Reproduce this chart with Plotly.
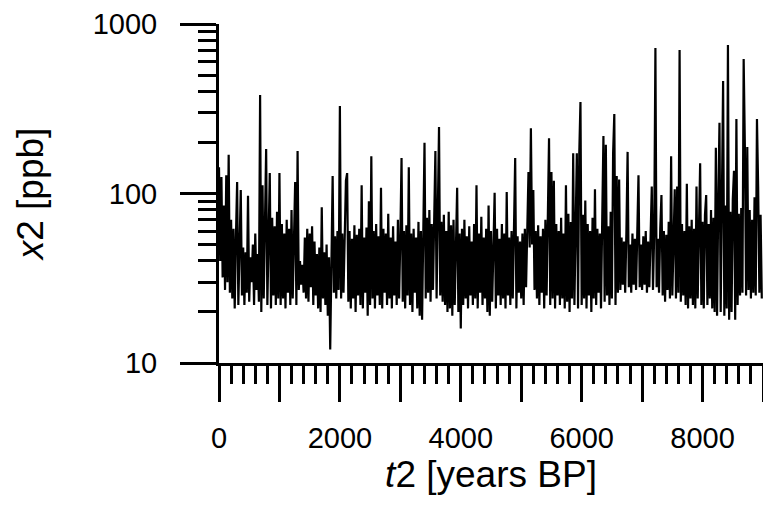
import plotly.graph_objects as go

# sampling times (years BP), 20-year step
t2 = list(range(0, 9000, 20))

x2_0000 = [143, 40, 125, 32, 85, 27, 128, 30, 169, 26, 70, 24, 62, 21, 55, 117, 22, 60, 105, 25,
           48, 22, 45, 26, 97, 23, 42, 30, 50, 22, 58, 27, 44, 23, 381, 20, 112, 24, 75, 183,
           22, 68, 132, 21, 72, 25, 64, 22, 78, 24]
x2_1000 = [132, 22, 66, 24, 58, 21, 70, 26, 62, 22, 80, 24, 65, 117, 22, 178, 27, 40, 29, 38,
           26, 55, 24, 62, 23, 58, 28, 64, 22, 52, 25, 44, 21, 48, 20, 83, 24, 45, 22, 50,
           19, 42, 12, 45, 127, 26, 56, 24, 60, 27]
x2_2000 = [328, 24, 58, 26, 52, 119, 132, 23, 60, 21, 54, 24, 65, 20, 57, 25, 62, 22, 112, 21,
           55, 26, 63, 19, 90, 22, 166, 24, 60, 21, 66, 25, 56, 22, 108, 21, 62, 26, 58, 22,
           76, 24, 55, 21, 64, 25, 52, 22, 70, 24]
x2_3000 = [55, 162, 23, 60, 21, 65, 25, 143, 22, 58, 20, 62, 26, 55, 21, 68, 19, 60, 18, 64,
           199, 24, 72, 26, 80, 23, 66, 27, 85, 178, 24, 110, 247, 25, 68, 23, 75, 22, 60, 20,
           78, 21, 65, 19, 70, 22, 60, 108, 20, 58]
x2_4000 = [16, 62, 22, 70, 24, 56, 21, 64, 25, 52, 22, 66, 24, 112, 21, 58, 26, 73, 22, 55,
           24, 62, 20, 85, 19, 60, 23, 56, 101, 21, 62, 25, 54, 22, 66, 24, 58, 21, 102, 25,
           55, 22, 60, 24, 67, 162, 21, 56, 26, 52]
x2_5000 = [24, 58, 22, 62, 28, 55, 134, 48, 243, 50, 105, 27, 60, 24, 65, 22, 56, 26, 62, 21,
           70, 25, 58, 212, 22, 134, 24, 119, 21, 66, 25, 60, 22, 72, 24, 58, 21, 112, 23, 76,
           20, 68, 24, 173, 22, 80, 173, 21, 171, 347]
x2_6000 = [22, 75, 24, 91, 21, 66, 25, 60, 20, 72, 24, 106, 22, 62, 26, 58, 21, 70, 218, 23,
           194, 25, 64, 22, 78, 24, 172, 294, 22, 127, 26, 121, 27, 55, 29, 52, 26, 60, 176, 28,
           50, 26, 58, 29, 54, 27, 62, 128, 28, 50]
x2_7000 = [27, 56, 29, 60, 26, 52, 28, 64, 110, 27, 58, 722, 28, 54, 26, 62, 98, 25, 60, 23,
           57, 27, 68, 24, 166, 25, 62, 106, 24, 110, 26, 703, 23, 66, 25, 60, 22, 114, 21, 64,
           24, 70, 22, 62, 21, 110, 24, 72, 151, 22]
x2_8000 = [68, 21, 75, 98, 22, 66, 24, 80, 21, 72, 20, 186, 19, 90, 261, 20, 132, 461, 19, 85,
           21, 751, 18, 78, 20, 92, 136, 18, 275, 22, 76, 25, 82, 26, 621, 190, 25, 188, 27, 80,
           24, 70, 26, 95, 25, 275, 110, 26, 75, 24]

x2 = x2_0000 + x2_1000 + x2_2000 + x2_3000 + x2_4000 + x2_5000 + x2_6000 + x2_7000 + x2_8000

x_tickvals = [0, 1000, 2000, 3000, 4000, 5000, 6000, 7000, 8000, 9000]
x_ticktext = ["0", "", "2000", "", "4000", "", "6000", "", "8000", ""]
y_tickvals = [10, 100, 1000]
y_ticktext = ["10", "100", "1000"]
y_minor = [20, 30, 40, 50, 60, 70, 80, 90, 200, 300, 400, 500, 600, 700, 800, 900]

FONT = "Liberation Sans, Arial, sans-serif"

fig = go.Figure()
fig.add_trace(go.Scatter(x=t2, y=x2, mode="lines",
                         line=dict(color="black", width=2.2), showlegend=False,
                         cliponaxis=True))

fig.update_layout(
    width=763, height=505,
    margin=dict(l=219, r=0, t=24, b=142),
    paper_bgcolor="white", plot_bgcolor="white",
    font=dict(family=FONT, size=29, color="black"),
)
fig.update_xaxes(
    range=[0, 9000], tickmode="array", tickvals=x_tickvals, ticktext=x_ticktext,
    ticks="outside", ticklen=36, tickwidth=3, tickcolor="black",
    showline=True, linewidth=3, linecolor="black",
    showgrid=False, zeroline=False,
    minor=dict(dtick=200, tick0=0, ticks="outside", ticklen=18, tickwidth=3, tickcolor="black", showgrid=False),
    tickfont=dict(family=FONT, size=29, color="black"),
    ticklabelstandoff=11,
    title=dict(text="<i>t</i>2 [years BP]", font=dict(family=FONT, size=37, color="black"), standoff=6),
)
fig.update_yaxes(
    type="log", range=[1, 3], tickmode="array", tickvals=y_tickvals, ticktext=y_ticktext,
    ticks="outside", ticklen=36, tickwidth=3, tickcolor="black",
    showline=True, linewidth=3, linecolor="black",
    showgrid=False, zeroline=False,
    minor=dict(tickmode="array", tickvals=y_minor, ticks="outside", ticklen=18, tickwidth=3, tickcolor="black", showgrid=False),
    tickfont=dict(family=FONT, size=29, color="black"),
    ticklabelstandoff=17,
    title=dict(text="<i>x</i>2 [ppb]", font=dict(family=FONT, size=37, color="black"), standoff=38),
)

fig.write_html("out.html")
